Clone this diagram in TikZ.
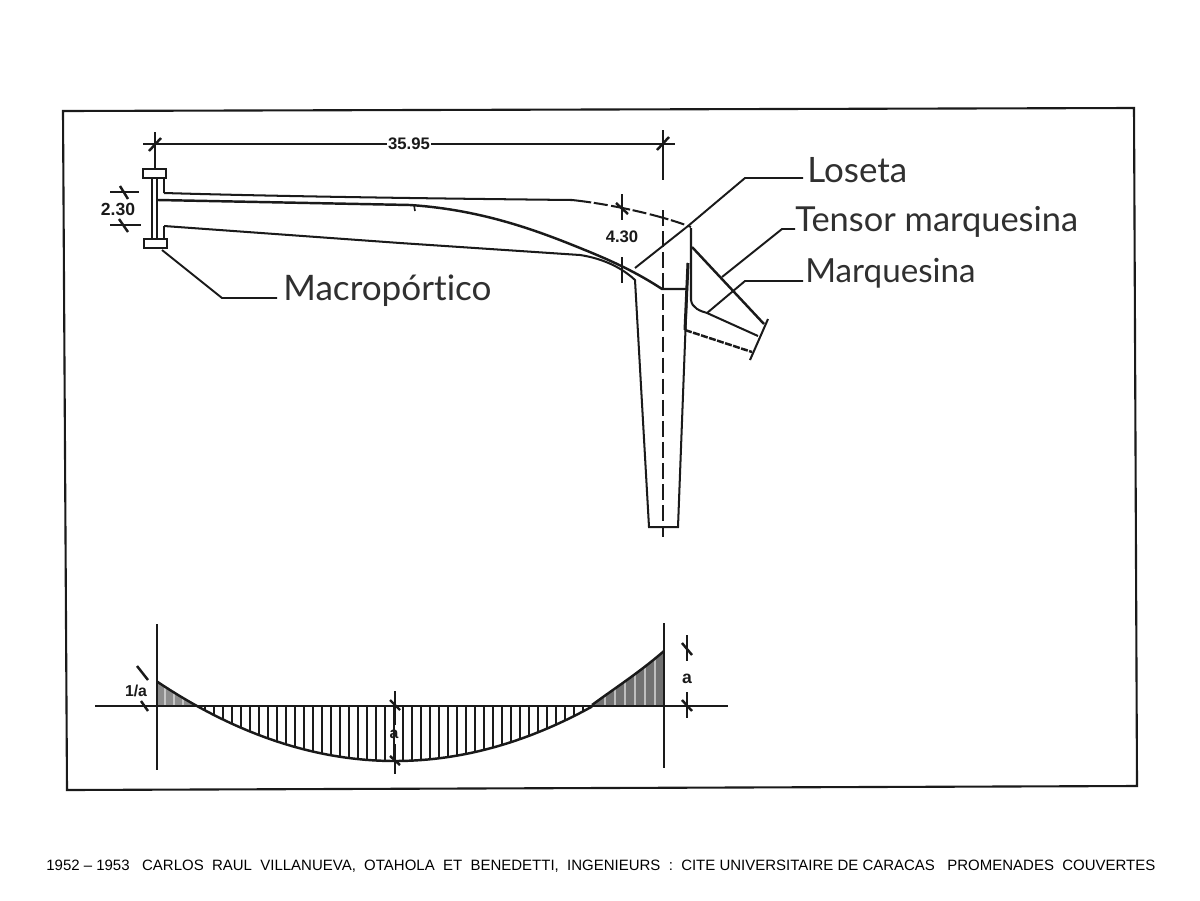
\documentclass[tikz,border=0pt]{standalone}
\usepackage{fontspec}
\setmainfont{Liberation Sans}
\newfontfamily\labelfont[Ligatures=NoCommon]{Lato}
\usetikzlibrary{calc}
\definecolor{ink}{HTML}{1A1A1A}
\definecolor{labelink}{HTML}{303030}
\tikzset{
  x=0.02cm,y=-0.02cm,
  frameline/.style={draw=ink,line width=1.2pt},
  heavy/.style={draw=ink,line width=1.15pt},
  thin line/.style={draw=ink,line width=0.85pt},
  tickmark/.style={draw=ink,line width=1.4pt},
  leader/.style={draw=ink,line width=1.1pt},
  dashline/.style={draw=ink,line width=1.1pt,dash pattern=on 9pt off 3pt},
  callout/.style={text=labelink,inner sep=0pt,anchor=west},
  dimtext/.style={font=\bfseries\fontsize{9.5}{11}\selectfont,text=ink,inner sep=1pt},
}
\begin{document}
\begin{tikzpicture}
\useasboundingbox (0,0) rectangle (1200,900);
\fill[white] (0,0) rectangle (1200,900);
% frame
\draw[frameline] (63,111) -- (1134,108) -- (1137,786) -- (67,790) -- cycle;
% top dimension
\node[dimtext,fill=white,inner sep=0.5pt] (dimA) at (409,144) {35.95};
\coordinate (dimL) at (143,144);
\coordinate (dimR) at (675,144);
\draw[thin line] (dimL) -- (dimA) -- (dimR);
\draw[thin line] (155,132) -- (155,168);
\draw[thin line] (663,130) -- (663,180);
\draw[tickmark] (149,151) -- (161,138);
\draw[tickmark] (657,150) -- (669,137);
% centre dashed
\draw[dashline] (663,210) -- (663,537);
% frame section
\draw[heavy] (143,169) rectangle (166,178);
\draw[heavy] (144,239) rectangle (167,248);
\draw[heavy] (152,178) -- (152,239);
\draw[heavy] (157,178) -- (157,239);
\draw[heavy] (164,178) -- (164,193);
\draw[heavy] (164,239) -- (164,226);
% extrados
\draw[heavy] (164,193) .. controls (300,197) and (480,199) .. (572,200);
\draw[heavy,dash pattern=on 11pt off 1.5pt on 8pt off 2pt] (572,200) .. controls (610,204) and (660,215) .. (691,227);
% deck line
\draw[line width=1.4pt,draw=ink] (158,200) -- (410,205) .. controls (470,209) and (520,224) .. (570,244) .. controls (600,256) and (630,268) .. (662,289) -- (687,289);
\draw[ink,line width=0.9pt] (414,205) -- (415,211);
% intrados
\draw[heavy] (164,226) -- (400,243) -- (580,255) .. controls (600,258) and (620,266) .. (635,280) -- (649,527) -- (678,527) -- (688,263);
% marquesina
\draw[heavy] (691,228) -- (691,300) .. controls (692,308) and (700,311) .. (707,313);
\draw[heavy] (707,313) -- (758,336);
\draw[line width=1.4pt,draw=ink] (692,247) -- (764,324);
\draw[heavy] (768,319) -- (750,360);
\draw[line width=1.4pt,draw=ink,dash pattern=on 4pt off 0.8pt] (685,330) -- (752,352);
\draw[line width=1.7pt,draw=ink] (688,263) -- (685,330);
% callouts
\node[callout,font=\labelfont\fontsize{19.9}{24}\selectfont] (los) at (807,170) {Loseta};
\node[callout,font=\labelfont\fontsize{19.6}{24}\selectfont] (ten) at (795,222) {Tensor marquesina};
\node[callout,font=\labelfont\fontsize{18.9}{24}\selectfont] (mar) at (805,273) {Marquesina};
\node[callout,font=\labelfont\fontsize{20}{24}\selectfont] (mac) at (283,291) {Macropórtico};
\coordinate (losA) at (635,268);
\coordinate (tenA) at (722,277);
\coordinate (marA) at (707,313);
\coordinate (macA) at (162,250);
\draw[leader] (losA) -- (688,226) -- (745,178) -- (803,178);
\draw[leader] (tenA) -- (782,229) -- (795,229);
\draw[leader] (marA) -- (745,281) -- (803,281);
\draw[leader] (macA) -- (222,298) -- (277,298);
% 2.30
\node[dimtext,font=\bfseries\fontsize{10}{12}\selectfont] (dimB) at (118,209) {2.30};
\draw[thin line] (110,192) -- (139,192);
\draw[thin line] (110,225) -- (141,225);
\draw[tickmark] (120,186) -- (128,199);
\draw[tickmark] (119,219) -- (128,232);
% 4.30
\node[dimtext] (dimC) at (622,237) {4.30};
\draw[thin line] (622,194) -- (622,220);
\draw[thin line] (622,257) -- (622,283);
\draw[tickmark] (616,203) -- (628,214);
% moment diagram: shaded end zones
\begin{scope}
\clip (157,681) .. controls (170,690) and (185,699) .. (197,706) -- (157,706) -- cycle;
\fill[ink!50] (150,670) rectangle (200,710);
\foreach \x in {165,174,183}{\draw[white,line width=1pt,opacity=0.5] (\x,670) -- (\x,706);}
\end{scope}
\begin{scope}
\clip (592,705) .. controls (615,688) and (640,672) .. (664,651) -- (664,706) -- cycle;
\fill[ink!62] (590,645) rectangle (666,710);
\foreach \x in {605,615,625,635,645,655}{\draw[white,line width=1.1pt,opacity=0.55] (\x,645) -- (\x,706);}
\end{scope}
\foreach \x in {205,214,...,585}{
  \pgfmathsetmacro{\yy}{706+55*(1-((\x-395)/198)^2)}
  \draw[ink,line width=1.05pt] (\x,706) -- (\x,\yy);
}
\draw[line width=1.4pt,draw=ink] (95,706) -- (728,706);
\draw[heavy] (157,624) -- (157,770);
\draw[heavy] (664,623) -- (664,768);
\draw[line width=1.4pt,draw=ink] plot[domain=157:592,samples=70] (\x,{706+55*(1-((\x-395)/198)^2)});
\draw[line width=1.4pt,draw=ink] (592,705) .. controls (615,688) and (640,672) .. (664,651);
% dims on diagram
\node[dimtext,font=\bfseries\fontsize{9}{11}\selectfont] (frac) at (136,691) {1/a};
\draw[tickmark] (137,666) -- (148,680);
\draw[tickmark] (141,701) -- (148,711);
\draw[thin line] (395,691) -- (395,725);
\draw[thin line] (395,744) -- (395,774);
\draw[tickmark] (390,700) -- (400,710);
\draw[tickmark] (390,756) -- (400,765);
\node[dimtext,font=\bfseries\fontsize{9}{11}\selectfont] (midA) at (394,734) {a};
\draw[thin line] (687,635) -- (687,661);
\draw[thin line] (687,692) -- (687,718);
\draw[tickmark] (682,643) -- (692,655);
\draw[tickmark] (682,700) -- (692,711);
\node[dimtext,font=\bfseries\fontsize{10}{12}\selectfont] (rightA) at (687,679) {a};
% caption
\node[inner sep=0pt,anchor=west,text=black,font=\fontsize{8.53}{10}\selectfont] (cap) at (46,866) {1952 – 1953\ \ \ CARLOS\ \ RAUL\ \ VILLANUEVA,\ \ OTAHOLA\ \ ET\ \ BENEDETTI,\ \ INGENIEURS\ \ :\ \ CITE UNIVERSITAIRE DE CARACAS\ \ \ PROMENADES\ \ COUVERTES};
\end{tikzpicture}
\end{document}
